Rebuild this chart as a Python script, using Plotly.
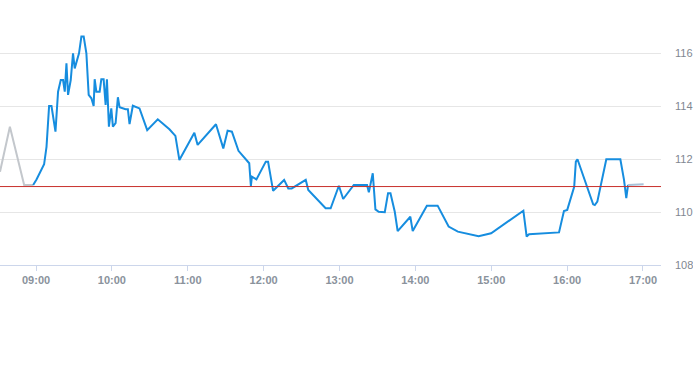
import plotly.graph_objects as go

DAY = "2024-01-02 "

pre_times = ["08:31:30", "08:39:20", "08:50:36", "08:57:43"]
pre_values = [111.52, 113.22, 111.02, 111.02]

times = ["08:57:43", "09:00:23", "09:06:23", "09:08:17", "09:10:20", "09:12:13", "09:15:22", "09:17:25",
         "09:19:33", "09:21:22", "09:22:43", "09:24:03", "09:25:19", "09:27:26", "09:29:15", "09:30:35",
         "09:33:59", "09:35:52", "09:37:41", "09:39:49", "09:41:38", "09:43:46", "09:45:34", "09:46:22",
         "09:47:42", "09:50:18", "09:51:38", "09:53:27", "09:55:02", "09:56:04", "09:57:38", "09:59:31",
         "10:00:47", "10:02:55", "10:04:44", "10:06:04", "10:10:48", "10:12:37", "10:13:57", "10:16:33",
         "10:21:50", "10:27:55", "10:36:16", "10:45:29", "10:50:13", "10:53:22", "11:05:12", "11:07:48",
         "11:22:18", "11:28:06", "11:31:30", "11:34:54", "11:40:06", "11:44:36", "11:46:00", "11:48:36",
         "11:49:54", "11:50:42", "11:54:18", "12:01:42", "12:03:30", "12:07:30", "12:16:12", "12:19:30",
         "12:22:12", "12:33:18", "12:35:18", "12:49:00", "12:53:00", "12:59:30", "13:02:54", "13:11:18",
         "13:21:48", "13:23:12", "13:26:18", "13:28:24", "13:31:00", "13:35:48", "13:38:24", "13:40:18",
         "13:43:42", "13:46:00", "13:56:00", "13:57:54", "14:09:06", "14:17:36", "14:26:18", "14:29:24",
         "14:33:36", "14:50:00", "14:59:54", "15:25:24", "15:28:00", "15:29:54", "15:53:36", "15:57:30",
         "16:00:06", "16:05:36", "16:06:54", "16:08:12", "16:20:36", "16:21:54", "16:23:54", "16:31:00",
         "16:42:06", "16:45:00", "16:46:48", "16:48:12"]
values = [111.02, 111.23, 111.80, 112.46, 114.00, 114.00, 113.03, 114.54,
          114.98, 114.98, 114.54, 115.61, 114.42, 114.98, 115.99, 115.42,
          115.99, 116.62, 116.62, 115.99, 114.42, 114.29, 114.00, 115.01,
          114.54, 114.54, 115.01, 115.01, 114.04, 115.01, 113.22, 113.91,
          113.22, 113.35, 114.33, 113.95, 113.88, 113.88, 113.32, 114.01,
          113.91, 113.09, 113.50, 113.12, 112.87, 111.96, 112.99, 112.53,
          113.31, 112.40, 113.07, 113.03, 112.31, 112.06, 111.99, 111.84,
          110.98, 111.33, 111.23, 111.90, 111.90, 110.80, 111.21, 110.89,
          110.89, 111.21, 110.83, 110.14, 110.14, 110.99, 110.49, 111.02,
          111.02, 110.74, 111.46, 110.10, 110.01, 109.99, 110.71, 110.71,
          110.01, 109.28, 109.82, 109.28, 110.24, 110.24, 109.45, 109.38,
          109.26, 109.09, 109.20, 110.05, 109.07, 109.16, 109.23, 110.04,
          110.08, 110.95, 111.90, 111.99, 110.29, 110.26, 110.39, 111.99,
          111.99, 111.21, 110.52, 111.02]

post_times = ["16:48:12", "16:48:42", "17:00:30"]
post_values = [111.02, 111.02, 111.05]

prev_close = 110.96

y_ticks = [108, 110, 112, 114, 116]

fig = go.Figure()
fig.add_trace(go.Scatter(x=[DAY + t for t in pre_times], y=pre_values, mode="lines",
                         line=dict(color="#c3c7cc", width=2), hoverinfo="skip"))
fig.add_trace(go.Scatter(x=[DAY + t for t in times], y=values, mode="lines",
                         line=dict(color="#168ddf", width=2)))
fig.add_trace(go.Scatter(x=[DAY + t for t in post_times], y=post_values, mode="lines",
                         line=dict(color="#a9c2d8", width=2), hoverinfo="skip"))

fig.add_shape(type="line", xref="paper", x0=0, x1=1, yref="y", y0=prev_close, y1=prev_close,
              line=dict(color="#c8302c", width=1))

fig.update_layout(
    width=693, height=365,
    margin=dict(l=0, r=30, t=0, b=100),
    paper_bgcolor="white", plot_bgcolor="white",
    showlegend=False,
    xaxis=dict(
        type="date",
        range=[DAY + "08:31:30", DAY + "17:14:15"],
        tick0=DAY + "09:00", dtick=3600000, tickformat="%H:%M",
        showgrid=False, zeroline=False,
        showline=True, linecolor="#ccd6eb", linewidth=1,
        ticks="outside", ticklen=5, tickcolor="#ccd6eb",
        tickfont=dict(family="Liberation Sans", size=11, color="#8a929c", weight="bold"),
    ),
    yaxis=dict(
        side="right", range=[108, 118],
        tickvals=y_ticks, ticktext=[str(v) for v in y_ticks],
        showgrid=True, gridcolor="#e6e6e6", gridwidth=1,
        zeroline=False, showline=False,
        ticks="", ticklabelstandoff=13,
        tickfont=dict(family="Liberation Sans", size=11, color="#7f8791"),
    ),
)

fig.write_html("out.html", config={"displayModeBar": False},
               post_script="document.body.style.margin='0';document.body.style.overflow='hidden';")
